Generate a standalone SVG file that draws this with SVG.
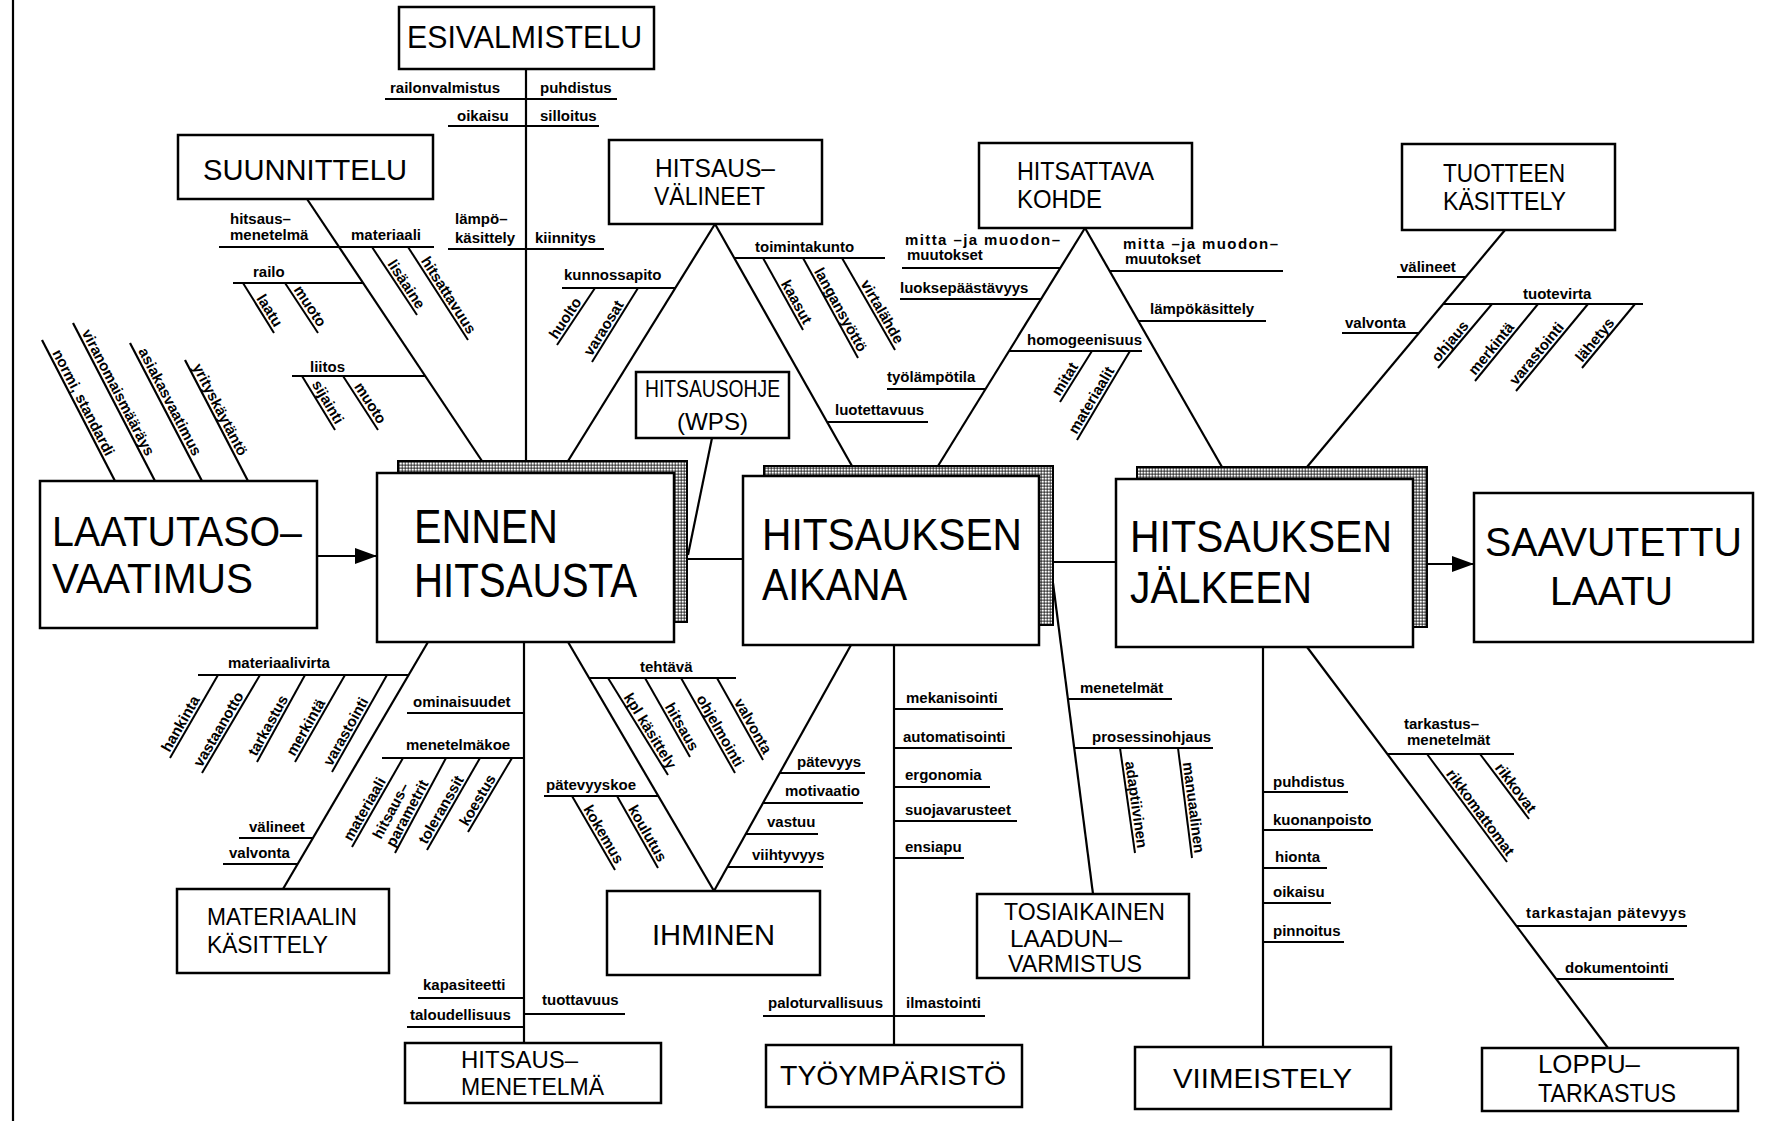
<svg xmlns="http://www.w3.org/2000/svg" width="1780" height="1121" viewBox="0 0 1780 1121">
<defs>
<style>
.bx{fill:#fff;stroke:#000;stroke-width:2.5}
.sh{fill:url(#dots);stroke:#000;stroke-width:2}
.ln{stroke:#000;stroke-width:2.2;fill:none}
.sl{stroke:#000;stroke-width:2;fill:none}
.t{font-family:"Liberation Sans",Arial,sans-serif;font-weight:bold;font-size:15px;fill:#000}
.b{font-family:"Liberation Sans",Arial,sans-serif;font-weight:normal;fill:#000}
</style>
<pattern id="dots" width="3" height="3" patternUnits="userSpaceOnUse"><rect width="3" height="3" fill="#000"/><rect x="0.5" y="0.5" width="2.3" height="2.2" fill="#fff"/></pattern>
<marker id="ah" markerWidth="24" markerHeight="16" refX="22" refY="8" orient="auto" markerUnits="userSpaceOnUse"><path d="M0,0 L22,8 L0,16 z" fill="#000"/></marker>
</defs>
<rect width="1780" height="1121" fill="#fff"/>
<line class="ln" x1="13" y1="0" x2="13" y2="1121" stroke-width="2.5"/>

<g id="connectors">
<line class="ln" x1="317" y1="556" x2="377" y2="556" marker-end="url(#ah)"/>
<line class="ln" x1="687" y1="559" x2="743" y2="559"/>
<line class="ln" x1="1053" y1="562" x2="1116" y2="562"/>
<line class="ln" x1="1427" y1="564" x2="1474" y2="564" marker-end="url(#ah)"/>
<line class="ln" x1="526" y1="69" x2="526" y2="461"/>
<line class="ln" x1="307" y1="199" x2="482" y2="461"/>
<line class="ln" x1="715" y1="224" x2="568" y2="461"/>
<line class="ln" x1="715" y1="224" x2="852" y2="466"/>
<line class="ln" x1="712" y1="438" x2="688" y2="555"/>
<line class="ln" x1="1085" y1="228" x2="938" y2="466"/>
<line class="ln" x1="1085" y1="228" x2="1222" y2="467"/>
<line class="ln" x1="1505" y1="230" x2="1307" y2="467"/>
<line class="ln" x1="42" y1="340" x2="115" y2="481"/>
<line class="ln" x1="73" y1="323" x2="155" y2="481"/>
<line class="ln" x1="130" y1="343" x2="202" y2="481"/>
<line class="ln" x1="185" y1="360" x2="248" y2="481"/>
<line class="ln" x1="428" y1="642" x2="283" y2="889"/>
<line class="ln" x1="524" y1="642" x2="524" y2="1043"/>
<line class="ln" x1="568" y1="642" x2="714" y2="891"/>
<line class="ln" x1="851" y1="645" x2="714" y2="891"/>
<line class="ln" x1="894" y1="645" x2="894" y2="1045"/>
<line class="ln" x1="1053" y1="583" x2="1093" y2="894"/>
<line class="ln" x1="1263" y1="647" x2="1263" y2="1047"/>
<line class="ln" x1="1307" y1="647" x2="1608" y2="1048"/>
<line class="sl" x1="385" y1="99" x2="617" y2="99"/>
<line class="sl" x1="448" y1="126" x2="599" y2="126"/>
<line class="sl" x1="448" y1="249" x2="604" y2="249"/>
<line class="sl" x1="219" y1="247" x2="434" y2="247"/>
<line class="sl" x1="372" y1="247" x2="417" y2="315"/>
<line class="sl" x1="408" y1="247" x2="468" y2="340"/>
<line class="sl" x1="233" y1="283" x2="363" y2="283"/>
<line class="sl" x1="243" y1="283" x2="274" y2="333"/>
<line class="sl" x1="285" y1="283" x2="318" y2="333"/>
<line class="sl" x1="292" y1="376" x2="425" y2="376"/>
<line class="sl" x1="302" y1="376" x2="335" y2="430"/>
<line class="sl" x1="343" y1="376" x2="378" y2="430"/>
<line class="sl" x1="562" y1="288" x2="675" y2="288"/>
<line class="sl" x1="595" y1="288" x2="557" y2="345"/>
<line class="sl" x1="638" y1="288" x2="592" y2="362"/>
<line class="sl" x1="734" y1="258" x2="885" y2="258"/>
<line class="sl" x1="763" y1="258" x2="803" y2="330"/>
<line class="sl" x1="803" y1="258" x2="858" y2="358"/>
<line class="sl" x1="842" y1="258" x2="895" y2="350"/>
<line class="sl" x1="827" y1="422" x2="928" y2="422"/>
<line class="sl" x1="902" y1="268" x2="1060" y2="268"/>
<line class="sl" x1="900" y1="299" x2="1041" y2="299"/>
<line class="sl" x1="887" y1="389" x2="985" y2="389"/>
<line class="sl" x1="1009" y1="351" x2="1142" y2="351"/>
<line class="sl" x1="1092" y1="351" x2="1060" y2="402"/>
<line class="sl" x1="1130" y1="351" x2="1077" y2="440"/>
<line class="sl" x1="1110" y1="271" x2="1283" y2="271"/>
<line class="sl" x1="1138" y1="321" x2="1266" y2="321"/>
<line class="sl" x1="1397" y1="277" x2="1466" y2="277"/>
<line class="sl" x1="1443" y1="304" x2="1643" y2="304"/>
<line class="sl" x1="1342" y1="333" x2="1419" y2="333"/>
<line class="sl" x1="1492" y1="304" x2="1438" y2="368"/>
<line class="sl" x1="1538" y1="304" x2="1475" y2="381"/>
<line class="sl" x1="1588" y1="304" x2="1516" y2="391"/>
<line class="sl" x1="1635" y1="304" x2="1582" y2="368"/>
<line class="sl" x1="198" y1="675" x2="409" y2="675"/>
<line class="sl" x1="218" y1="675" x2="170" y2="758"/>
<line class="sl" x1="260" y1="675" x2="202" y2="773"/>
<line class="sl" x1="305" y1="675" x2="257" y2="762"/>
<line class="sl" x1="345" y1="675" x2="295" y2="762"/>
<line class="sl" x1="387" y1="675" x2="332" y2="772"/>
<line class="sl" x1="239" y1="838" x2="313" y2="838"/>
<line class="sl" x1="223" y1="864" x2="298" y2="864"/>
<line class="sl" x1="407" y1="713" x2="524" y2="713"/>
<line class="sl" x1="382" y1="758" x2="524" y2="758"/>
<line class="sl" x1="403" y1="758" x2="352" y2="847"/>
<line class="sl" x1="446" y1="758" x2="395" y2="853"/>
<line class="sl" x1="480" y1="758" x2="427" y2="850"/>
<line class="sl" x1="512" y1="758" x2="468" y2="832"/>
<line class="sl" x1="418" y1="998" x2="524" y2="998"/>
<line class="sl" x1="407" y1="1027" x2="524" y2="1027"/>
<line class="sl" x1="524" y1="1014" x2="625" y2="1014"/>
<line class="sl" x1="589" y1="678" x2="736" y2="678"/>
<line class="sl" x1="608" y1="678" x2="668" y2="775"/>
<line class="sl" x1="645" y1="678" x2="690" y2="757"/>
<line class="sl" x1="681" y1="678" x2="735" y2="773"/>
<line class="sl" x1="717" y1="678" x2="763" y2="760"/>
<line class="sl" x1="544" y1="796" x2="658" y2="796"/>
<line class="sl" x1="572" y1="796" x2="615" y2="870"/>
<line class="sl" x1="617" y1="796" x2="658" y2="868"/>
<line class="sl" x1="780" y1="773" x2="865" y2="773"/>
<line class="sl" x1="763" y1="803" x2="863" y2="803"/>
<line class="sl" x1="746" y1="834" x2="818" y2="834"/>
<line class="sl" x1="727" y1="867" x2="823" y2="867"/>
<line class="sl" x1="894" y1="709" x2="1003" y2="709"/>
<line class="sl" x1="894" y1="748" x2="1012" y2="748"/>
<line class="sl" x1="894" y1="787" x2="990" y2="787"/>
<line class="sl" x1="894" y1="821" x2="1017" y2="821"/>
<line class="sl" x1="894" y1="858" x2="964" y2="858"/>
<line class="sl" x1="763" y1="1016" x2="985" y2="1016"/>
<line class="sl" x1="1068" y1="699" x2="1172" y2="699"/>
<line class="sl" x1="1074" y1="748" x2="1213" y2="748"/>
<line class="sl" x1="1120" y1="748" x2="1135" y2="853"/>
<line class="sl" x1="1178" y1="748" x2="1192" y2="858"/>
<line class="sl" x1="1263" y1="792" x2="1348" y2="792"/>
<line class="sl" x1="1263" y1="830" x2="1373" y2="830"/>
<line class="sl" x1="1263" y1="868" x2="1327" y2="868"/>
<line class="sl" x1="1263" y1="903" x2="1331" y2="903"/>
<line class="sl" x1="1263" y1="942" x2="1344" y2="942"/>
<line class="sl" x1="1387" y1="754" x2="1514" y2="754"/>
<line class="sl" x1="1427" y1="754" x2="1507" y2="862"/>
<line class="sl" x1="1480" y1="754" x2="1529" y2="819"/>
<line class="sl" x1="1516" y1="926" x2="1687" y2="926"/>
<line class="sl" x1="1556" y1="979" x2="1674" y2="979"/>
</g>

<g id="labels">
<text class="t" x="390" y="93">railonvalmistus</text>
<text class="t" x="540" y="93">puhdistus</text>
<text class="t" x="457" y="121">oikaisu</text>
<text class="t" x="540" y="121">silloitus</text>
<text class="t" x="455" y="224">lämpö–</text>
<text class="t" x="455" y="243">käsittely</text>
<text class="t" x="535" y="243">kiinnitys</text>
<text class="t" x="230" y="224">hitsaus–</text>
<text class="t" x="230" y="240">menetelmä</text>
<text class="t" x="351" y="240">materiaali</text>
<text class="t" text-anchor="end" transform="translate(417.3,310) rotate(56.5)">lisäaine</text>
<text class="t" text-anchor="end" transform="translate(468.3,335) rotate(57.2)">hitsattavuus</text>
<text class="t" x="253" y="277">railo</text>
<text class="t" text-anchor="end" transform="translate(274.5,328) rotate(58.2)">laatu</text>
<text class="t" text-anchor="end" transform="translate(318.5,328) rotate(56.6)">muoto</text>
<text class="t" x="310" y="372">liitos</text>
<text class="t" text-anchor="end" transform="translate(335.6,425) rotate(59.5)">sijainti</text>
<text class="t" text-anchor="end" transform="translate(378.6,425) rotate(57)">muoto</text>
<text class="t" text-anchor="end" transform="translate(106,457) rotate(62.6)">normi, standardi</text>
<text class="t" text-anchor="end" transform="translate(146,457) rotate(62.6)">viranomaismääräys</text>
<text class="t" text-anchor="end" transform="translate(193,457) rotate(62.6)">asiakasvaatimus</text>
<text class="t" text-anchor="end" transform="translate(239,457) rotate(62.6)">yrityskäytäntö</text>
<text class="t" x="564" y="280">kunnossapito</text>
<text class="t" transform="translate(556.7,340) rotate(-56.3)">huolto</text>
<text class="t" transform="translate(591.6,357) rotate(-58.1)">varaosat</text>
<text class="t" x="755" y="252">toimintakunto</text>
<text class="t" text-anchor="end" transform="translate(803.7,325) rotate(60.9)">kaasut</text>
<text class="t" text-anchor="end" transform="translate(858.7,353) rotate(61.2)">langansyöttö</text>
<text class="t" text-anchor="end" transform="translate(895.6,345) rotate(60.1)">virtalähde</text>
<text class="t" x="835" y="415">luotettavuus</text>
<text class="t" x="905" y="245" textLength="155">mitta –ja muodon–</text>
<text class="t" x="907" y="260">muutokset</text>
<text class="t" x="900" y="293">luoksepäästävyys</text>
<text class="t" x="887" y="382">työlämpötila</text>
<text class="t" x="1027" y="345">homogeenisuus</text>
<text class="t" transform="translate(1059.6,397) rotate(-57.9)">mitat</text>
<text class="t" transform="translate(1076.4,435) rotate(-59.2)">materiaalit</text>
<text class="t" x="1123" y="249" textLength="155">mitta –ja muodon–</text>
<text class="t" x="1125" y="264">muutokset</text>
<text class="t" x="1150" y="314">lämpökäsittely</text>
<text class="t" x="1400" y="272">välineet</text>
<text class="t" x="1523" y="299">tuotevirta</text>
<text class="t" x="1345" y="328">valvonta</text>
<text class="t" transform="translate(1438.3,363) rotate(-49.8)">ohjaus</text>
<text class="t" transform="translate(1475.2,376) rotate(-50.7)">merkintä</text>
<text class="t" transform="translate(1516.2,386) rotate(-50.4)">varastointi</text>
<text class="t" transform="translate(1582.2,363) rotate(-50.4)">lähetys</text>
<text class="t" x="228" y="668">materiaalivirta</text>
<text class="t" transform="translate(169.4,753) rotate(-60)">hankinta</text>
<text class="t" transform="translate(201.4,768) rotate(-59.4)">vastaanotto</text>
<text class="t" transform="translate(256.3,757) rotate(-61.1)">tarkastus</text>
<text class="t" transform="translate(294.4,757) rotate(-60.1)">merkintä</text>
<text class="t" transform="translate(331.4,767) rotate(-60.4)">varastointi</text>
<text class="t" x="249" y="832">välineet</text>
<text class="t" x="229" y="858">valvonta</text>
<text class="t" x="413" y="707">ominaisuudet</text>
<text class="t" x="406" y="750">menetelmäkoe</text>
<text class="t" transform="translate(351.4,842) rotate(-60.2)">materiaali</text>
<text class="t" transform="translate(381,840) rotate(-61.8)">hitsaus–</text>
<text class="t" transform="translate(394.3,848) rotate(-61.8)">parametrit</text>
<text class="t" transform="translate(426.4,845) rotate(-60)">toleranssit</text>
<text class="t" transform="translate(467.4,827) rotate(-59.3)">koestus</text>
<text class="t" x="423" y="990">kapasiteetti</text>
<text class="t" x="410" y="1020">taloudellisuus</text>
<text class="t" x="542" y="1005">tuottavuus</text>
<text class="t" x="640" y="672">tehtävä</text>
<text class="t" text-anchor="end" transform="translate(668.5,770) rotate(58.3)">kpl käsittely</text>
<text class="t" text-anchor="end" transform="translate(690.6,752) rotate(60.3)">hitsaus</text>
<text class="t" text-anchor="end" transform="translate(735.6,768) rotate(60.4)">ohjelmointi</text>
<text class="t" text-anchor="end" transform="translate(763.6,755) rotate(60.7)">valvonta</text>
<text class="t" x="546" y="790">pätevyyskoe</text>
<text class="t" text-anchor="end" transform="translate(615.6,865) rotate(59.8)">kokemus</text>
<text class="t" text-anchor="end" transform="translate(658.6,863) rotate(60.3)">koulutus</text>
<text class="t" x="797" y="767">pätevyys</text>
<text class="t" x="785" y="796">motivaatio</text>
<text class="t" x="767" y="827">vastuu</text>
<text class="t" x="752" y="860">viihtyvyys</text>
<text class="t" x="906" y="703">mekanisointi</text>
<text class="t" x="903" y="742">automatisointi</text>
<text class="t" x="905" y="780">ergonomia</text>
<text class="t" x="905" y="815">suojavarusteet</text>
<text class="t" x="905" y="852">ensiapu</text>
<text class="t" x="768" y="1008">paloturvallisuus</text>
<text class="t" x="906" y="1008">ilmastointi</text>
<text class="t" x="1080" y="693">menetelmät</text>
<text class="t" x="1092" y="742">prosessinohjaus</text>
<text class="t" text-anchor="end" transform="translate(1137.4,848.6) rotate(81.9)">adaptiivinen</text>
<text class="t" text-anchor="end" transform="translate(1194.5,853.6) rotate(82.7)">manuaalinen</text>
<text class="t" x="1273" y="787">puhdistus</text>
<text class="t" x="1273" y="825">kuonanpoisto</text>
<text class="t" x="1275" y="862">hionta</text>
<text class="t" x="1273" y="897">oikaisu</text>
<text class="t" x="1273" y="936">pinnoitus</text>
<text class="t" x="1404" y="729">tarkastus–</text>
<text class="t" x="1407" y="745">menetelmät</text>
<text class="t" text-anchor="end" transform="translate(1507,857) rotate(53.5)">rikkomattomat</text>
<text class="t" text-anchor="end" transform="translate(1529,814) rotate(53)">rikkovat</text>
<text class="t" x="1526" y="918" textLength="160">tarkastajan pätevyys</text>
<text class="t" x="1565" y="973">dokumentointi</text>
</g>

<g id="n-esivalmistelu"><rect class="bx" x="399" y="7" width="255" height="62"/><text class="b" x="407" y="48" font-size="32" textLength="235" lengthAdjust="spacingAndGlyphs">ESIVALMISTELU</text></g>
<g id="n-suunnittelu"><rect class="bx" x="178" y="135" width="255" height="64"/><text class="b" x="203" y="180" font-size="29" textLength="204" lengthAdjust="spacingAndGlyphs">SUUNNITTELU</text></g>
<g id="n-hitsausvalineet"><rect class="bx" x="609" y="140" width="213" height="84"/><text class="b" font-size="25"><tspan x="655" y="177" textLength="120" lengthAdjust="spacingAndGlyphs">HITSAUS–</tspan><tspan x="654" y="205" textLength="111" lengthAdjust="spacingAndGlyphs">VÄLINEET</tspan></text></g>
<g id="n-hitsattava"><rect class="bx" x="979" y="143" width="213" height="85"/><text class="b" font-size="25"><tspan x="1017" y="180" textLength="137" lengthAdjust="spacingAndGlyphs">HITSATTAVA</tspan><tspan x="1017" y="208" textLength="85" lengthAdjust="spacingAndGlyphs">KOHDE</tspan></text></g>
<g id="n-tuotteen"><rect class="bx" x="1402" y="144" width="213" height="86"/><text class="b" font-size="25"><tspan x="1443" y="182" textLength="122" lengthAdjust="spacingAndGlyphs">TUOTTEEN</tspan><tspan x="1443" y="210" textLength="123" lengthAdjust="spacingAndGlyphs">KÄSITTELY</tspan></text></g>
<g id="n-laatutaso"><rect class="bx" x="40" y="481" width="277" height="147"/><text class="b" font-size="43"><tspan x="52" y="546" textLength="250" lengthAdjust="spacingAndGlyphs">LAATUTASO–</tspan><tspan x="52" y="593" textLength="201" lengthAdjust="spacingAndGlyphs">VAATIMUS</tspan></text></g>
<g id="n-ennen"><rect class="sh" x="398" y="461" width="289" height="161"/><rect class="bx" x="377" y="473" width="297" height="169"/><text class="b" font-size="49"><tspan x="414" y="543" textLength="144" lengthAdjust="spacingAndGlyphs">ENNEN</tspan><tspan x="414" y="597" textLength="223" lengthAdjust="spacingAndGlyphs">HITSAUSTA</tspan></text></g>
<g id="n-wps"><rect class="bx" x="636" y="372" width="153" height="66"/><text class="b" font-size="24"><tspan x="645" y="397" textLength="135" lengthAdjust="spacingAndGlyphs">HITSAUSOHJE</tspan><tspan x="677" y="430" textLength="71" lengthAdjust="spacingAndGlyphs">(WPS)</tspan></text></g>
<g id="n-aikana"><rect class="sh" x="764" y="466" width="289" height="159"/><rect class="bx" x="743" y="476" width="296" height="169"/><text class="b" font-size="44"><tspan x="762" y="550" textLength="260" lengthAdjust="spacingAndGlyphs">HITSAUKSEN</tspan><tspan x="762" y="600" textLength="145" lengthAdjust="spacingAndGlyphs">AIKANA</tspan></text></g>
<g id="n-jalkeen"><rect class="sh" x="1137" y="467" width="290" height="160"/><rect class="bx" x="1116" y="479" width="297" height="168"/><text class="b" font-size="44"><tspan x="1130" y="552" textLength="262" lengthAdjust="spacingAndGlyphs">HITSAUKSEN</tspan><tspan x="1130" y="603" textLength="182" lengthAdjust="spacingAndGlyphs">JÄLKEEN</tspan></text></g>
<g id="n-saavutettu"><rect class="bx" x="1474" y="493" width="279" height="149"/><text class="b" font-size="41"><tspan x="1485" y="556" textLength="257" lengthAdjust="spacingAndGlyphs">SAAVUTETTU</tspan><tspan x="1550" y="605" textLength="123" lengthAdjust="spacingAndGlyphs">LAATU</tspan></text></g>
<g id="n-materiaalin"><rect class="bx" x="177" y="889" width="212" height="84"/><text class="b" font-size="24"><tspan x="207" y="925" textLength="150" lengthAdjust="spacingAndGlyphs">MATERIAALIN</tspan><tspan x="207" y="953" textLength="121" lengthAdjust="spacingAndGlyphs">KÄSITTELY</tspan></text></g>
<g id="n-hitsausmenetelma"><rect class="bx" x="405" y="1043" width="256" height="60"/><text class="b" font-size="24"><tspan x="461" y="1068" textLength="117" lengthAdjust="spacingAndGlyphs">HITSAUS–</tspan><tspan x="461" y="1095" textLength="143" lengthAdjust="spacingAndGlyphs">MENETELMÄ</tspan></text></g>
<g id="n-ihminen"><rect class="bx" x="607" y="891" width="213" height="84"/><text class="b" x="652" y="945" font-size="30" textLength="123" lengthAdjust="spacingAndGlyphs">IHMINEN</text></g>
<g id="n-tyoymparisto"><rect class="bx" x="766" y="1045" width="256" height="62"/><text class="b" x="780" y="1085" font-size="28" textLength="226" lengthAdjust="spacingAndGlyphs">TYÖYMPÄRISTÖ</text></g>
<g id="n-tosiaikainen"><rect class="bx" x="977" y="894" width="212" height="84"/><text class="b" font-size="24"><tspan x="1004" y="920" textLength="161" lengthAdjust="spacingAndGlyphs">TOSIAIKAINEN</tspan><tspan x="1010" y="947" textLength="112" lengthAdjust="spacingAndGlyphs">LAADUN–</tspan><tspan x="1008" y="972" textLength="134" lengthAdjust="spacingAndGlyphs">VARMISTUS</tspan></text></g>
<g id="n-viimeistely"><rect class="bx" x="1135" y="1047" width="256" height="62"/><text class="b" x="1173" y="1088" font-size="28" textLength="179" lengthAdjust="spacingAndGlyphs">VIIMEISTELY</text></g>
<g id="n-loppu"><rect class="bx" x="1482" y="1048" width="256" height="63"/><text class="b" font-size="25"><tspan x="1538" y="1073" textLength="102" lengthAdjust="spacingAndGlyphs">LOPPU–</tspan><tspan x="1538" y="1102" textLength="138" lengthAdjust="spacingAndGlyphs">TARKASTUS</tspan></text></g>
</svg>
